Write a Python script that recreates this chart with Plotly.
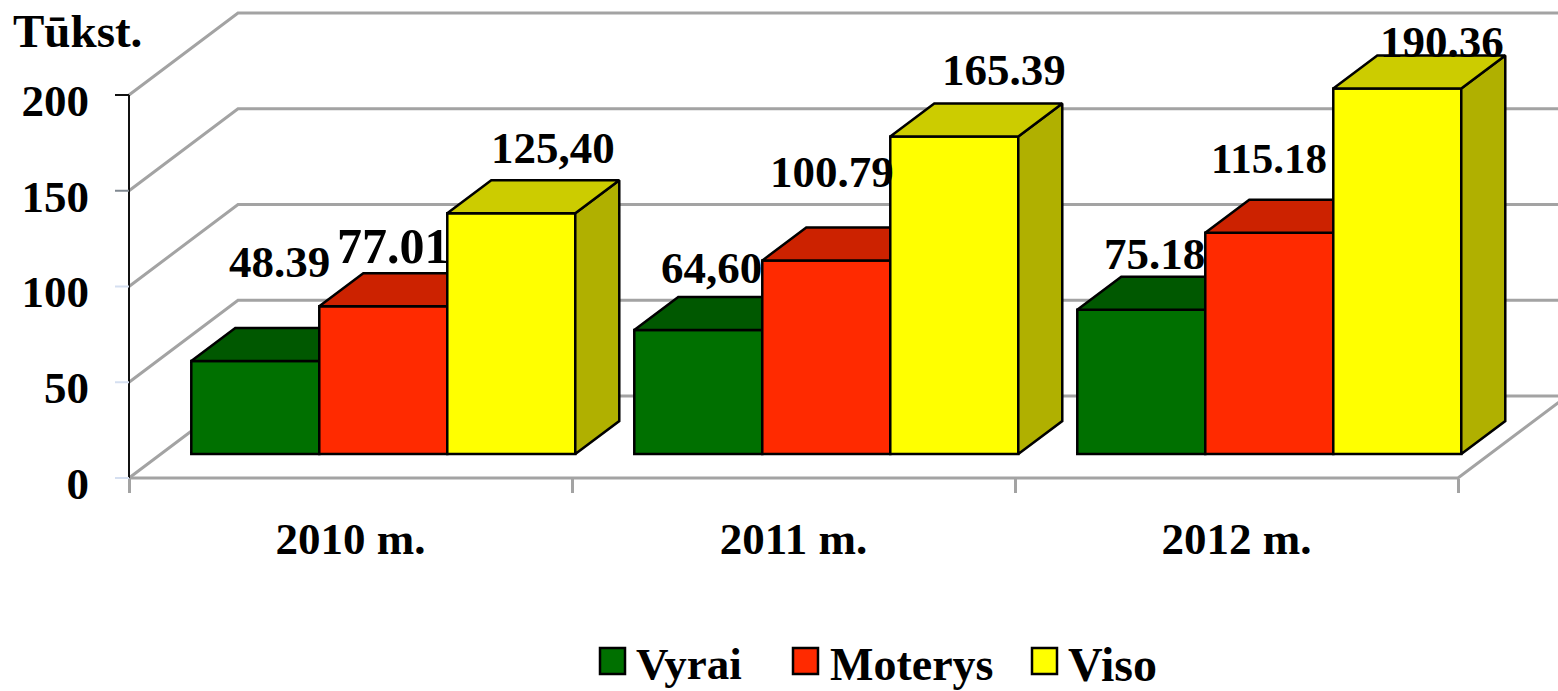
import plotly.graph_objects as go

categories = ["2010 m.", "2011 m.", "2012 m."]
series_names = ["Vyrai", "Moterys", "Viso"]
vyrai = [48.39, 64.60, 75.18]
moterys = [77.01, 100.79, 115.18]
viso = [125.40, 165.39, 190.36]
vyrai_labels = ["48.39", "64,60", "75.18"]
moterys_labels = ["77.01", "100.79", "115.18"]
viso_labels = ["125,40", "165.39", "190.36"]
y_ticks = [0, 50, 100, 150, 200]

# ---- layout / style ----
W, H = 1558, 691
X0, CAT_W = 129, 443          # pixel of category 0 and pixels per category
AX_Y0, AX_SCALE = 478, 1.915  # axis: pixel of value 0, pixels per value
BAR_Y0, BAR_SCALE = 454, 1.92 # bars: pixel of value 0, pixels per value
WALL_DX, WALL_DY = 109 / CAT_W, 82 / AX_SCALE
BAR_DX, BAR_DY = 44 / CAT_W, 33 / BAR_SCALE
BAR_W = 128 / CAT_W
GROUP_C = 0.574
GRID = "#a3a3a3"
FONT = "Liberation Serif"
FS = 45
front = ["#007000", "#ff2a00", "#ffff00"]
top = ["#005800", "#cc2200", "#cccc00"]
side = ["#004000", "#b31e00", "#b0b000"]
tick_colors = ["#d5dff0", "#d5dff0", "#d5dff0", "#808890", "#111111"]
label_dx = [[24, 13, 13], [10, 6, 0], [42, 50, 45]]
label_dy = [[99, 62, 56], [60, 88, 74], [65, 66, 47]]
label_fs = [[45, 45, 45], [50, 45, 43], [45, 45, 45]]
swatch_x = [600, 793, 1032]
legend_text_x = [634, 828, 1066]
legend_fs = [45, 46, 48]

fig = go.Figure()


def seg(xs, ys, color=GRID, width=3):
    fig.add_trace(go.Scatter(x=xs, y=ys, mode="lines", xaxis="x", yaxis="y",
                             line=dict(color=color, width=width),
                             hoverinfo="skip", showlegend=False))


# 3-D walls: one diagonal and one back line per y tick, plus the floor
n_cat = len(categories)
for v in y_ticks:
    seg([0, WALL_DX, n_cat + WALL_DX], [v, v + WALL_DY, v + WALL_DY])
seg([0, n_cat, n_cat + WALL_DX], [0, 0, WALL_DY])

# value axis line and tick marks
seg([0, 0], [0, y_ticks[-1]], color="#111111", width=2)
for v, c in zip(y_ticks, tick_colors):
    seg([-14 / CAT_W, 0], [v, v], color=c, width=2)

# bars: each series on its own overlaid subplot so that faces stack left to right
all_values = [vyrai, moterys, viso]
all_labels = [vyrai_labels, moterys_labels, viso_labels]
annotations = []
for j, (name, vals, labs) in enumerate(zip(series_names, all_values, all_labels)):
    ya = f"y{j + 2}"
    centers = [i + GROUP_C + (j - 1) * BAR_W for i in range(n_cat)]
    for xc, v in zip(centers, vals):
        l, r = xc - BAR_W / 2, xc + BAR_W / 2
        fig.add_trace(go.Scatter(
            x=[r, r + BAR_DX, r + BAR_DX, r, r], y=[0, BAR_DY, v + BAR_DY, v, 0],
            mode="lines", fill="toself", fillcolor=side[j], xaxis="x", yaxis=ya,
            line=dict(color="#000000", width=2.5), hoverinfo="skip", showlegend=False))
        fig.add_trace(go.Scatter(
            x=[l, r, r + BAR_DX, l + BAR_DX, l], y=[v, v, v + BAR_DY, v + BAR_DY, v],
            mode="lines", fill="toself", fillcolor=top[j], xaxis="x", yaxis=ya,
            line=dict(color="#000000", width=2.5), hoverinfo="skip", showlegend=False))
    fig.add_trace(go.Bar(x=centers, y=vals, width=BAR_W, name=name, xaxis="x", yaxis=ya,
                         marker=dict(color=front[j], line=dict(color="#000000", width=2.5)),
                         showlegend=False))
    for i, (xc, v, t) in enumerate(zip(centers, vals, labs)):
        annotations.append(dict(x=xc, y=v, xref="x", yref="y2", text=t, showarrow=False,
                                xanchor="center", yanchor="middle",
                                xshift=label_dx[j][i], yshift=label_dy[j][i],
                                font=dict(family=FONT, size=label_fs[j][i], color="#000000", weight="bold")))

# manual legend and title
shapes = []
for j, name in enumerate(series_names):
    shapes.append(dict(type="rect", xref="paper", yref="paper",
                       x0=swatch_x[j] / W, x1=(swatch_x[j] + 25) / W,
                       y0=1 - 674 / H, y1=1 - 648 / H,
                       fillcolor=front[j], line=dict(color="#000000", width=2.5)))
    annotations.append(dict(x=legend_text_x[j] / W, y=1 - 664 / H, xref="paper", yref="paper",
                            text=name, showarrow=False, xanchor="left", yanchor="middle",
                            font=dict(family=FONT, size=legend_fs[j], color="#000000", weight="bold")))
annotations.append(dict(x=11 / W, y=1 - 31 / H, xref="paper", yref="paper", text="Tūkst.",
                        showarrow=False, xanchor="left", yanchor="middle",
                        font=dict(family=FONT, size=47, color="#000000", weight="bold")))

x_range = [-X0 / CAT_W, (W - X0) / CAT_W]
ax_range = [(AX_Y0 - H) / AX_SCALE, AX_Y0 / AX_SCALE]
bar_range = [(BAR_Y0 - H) / BAR_SCALE, BAR_Y0 / BAR_SCALE]
hidden = dict(range=bar_range, overlaying="y", anchor="x", visible=False, fixedrange=True)

fig.update_layout(
    width=W, height=H, margin=dict(l=0, r=0, t=0, b=0),
    paper_bgcolor="white", plot_bgcolor="white", showlegend=False,
    barmode="overlay", annotations=annotations, shapes=shapes,
    xaxis=dict(range=x_range, domain=[0, 1], anchor="free", position=1 - AX_Y0 / H,
               tickmode="array", tickvals=[i + 0.5 for i in range(n_cat)], ticktext=categories,
               ticks="outside", ticklen=21, tickcolor="rgba(0,0,0,0)", showgrid=False,
               zeroline=False, showline=False, fixedrange=True,
               tickfont=dict(family=FONT, size=FS, color="#000000", weight="bold"),
               minor=dict(tickmode="array", tickvals=list(range(n_cat + 1)), ticks="outside",
                          ticklen=14, tickcolor=GRID, tickwidth=2.5, showgrid=False)),
    yaxis=dict(range=ax_range, domain=[0, 1], anchor="free", position=X0 / W,
               tickmode="array", tickvals=y_ticks, ticks="outside", ticklen=31,
               tickcolor="rgba(0,0,0,0)", showgrid=False, zeroline=False, showline=False,
               fixedrange=True, ticklabelshift=5,
               tickfont=dict(family=FONT, size=FS, color="#000000", weight="bold")),
    yaxis2=hidden, yaxis3=hidden, yaxis4=hidden,
)

fig.write_html("out.html", config=dict(displayModeBar=False),
               post_script="document.body.style.margin='0';document.body.style.overflow='hidden';")
